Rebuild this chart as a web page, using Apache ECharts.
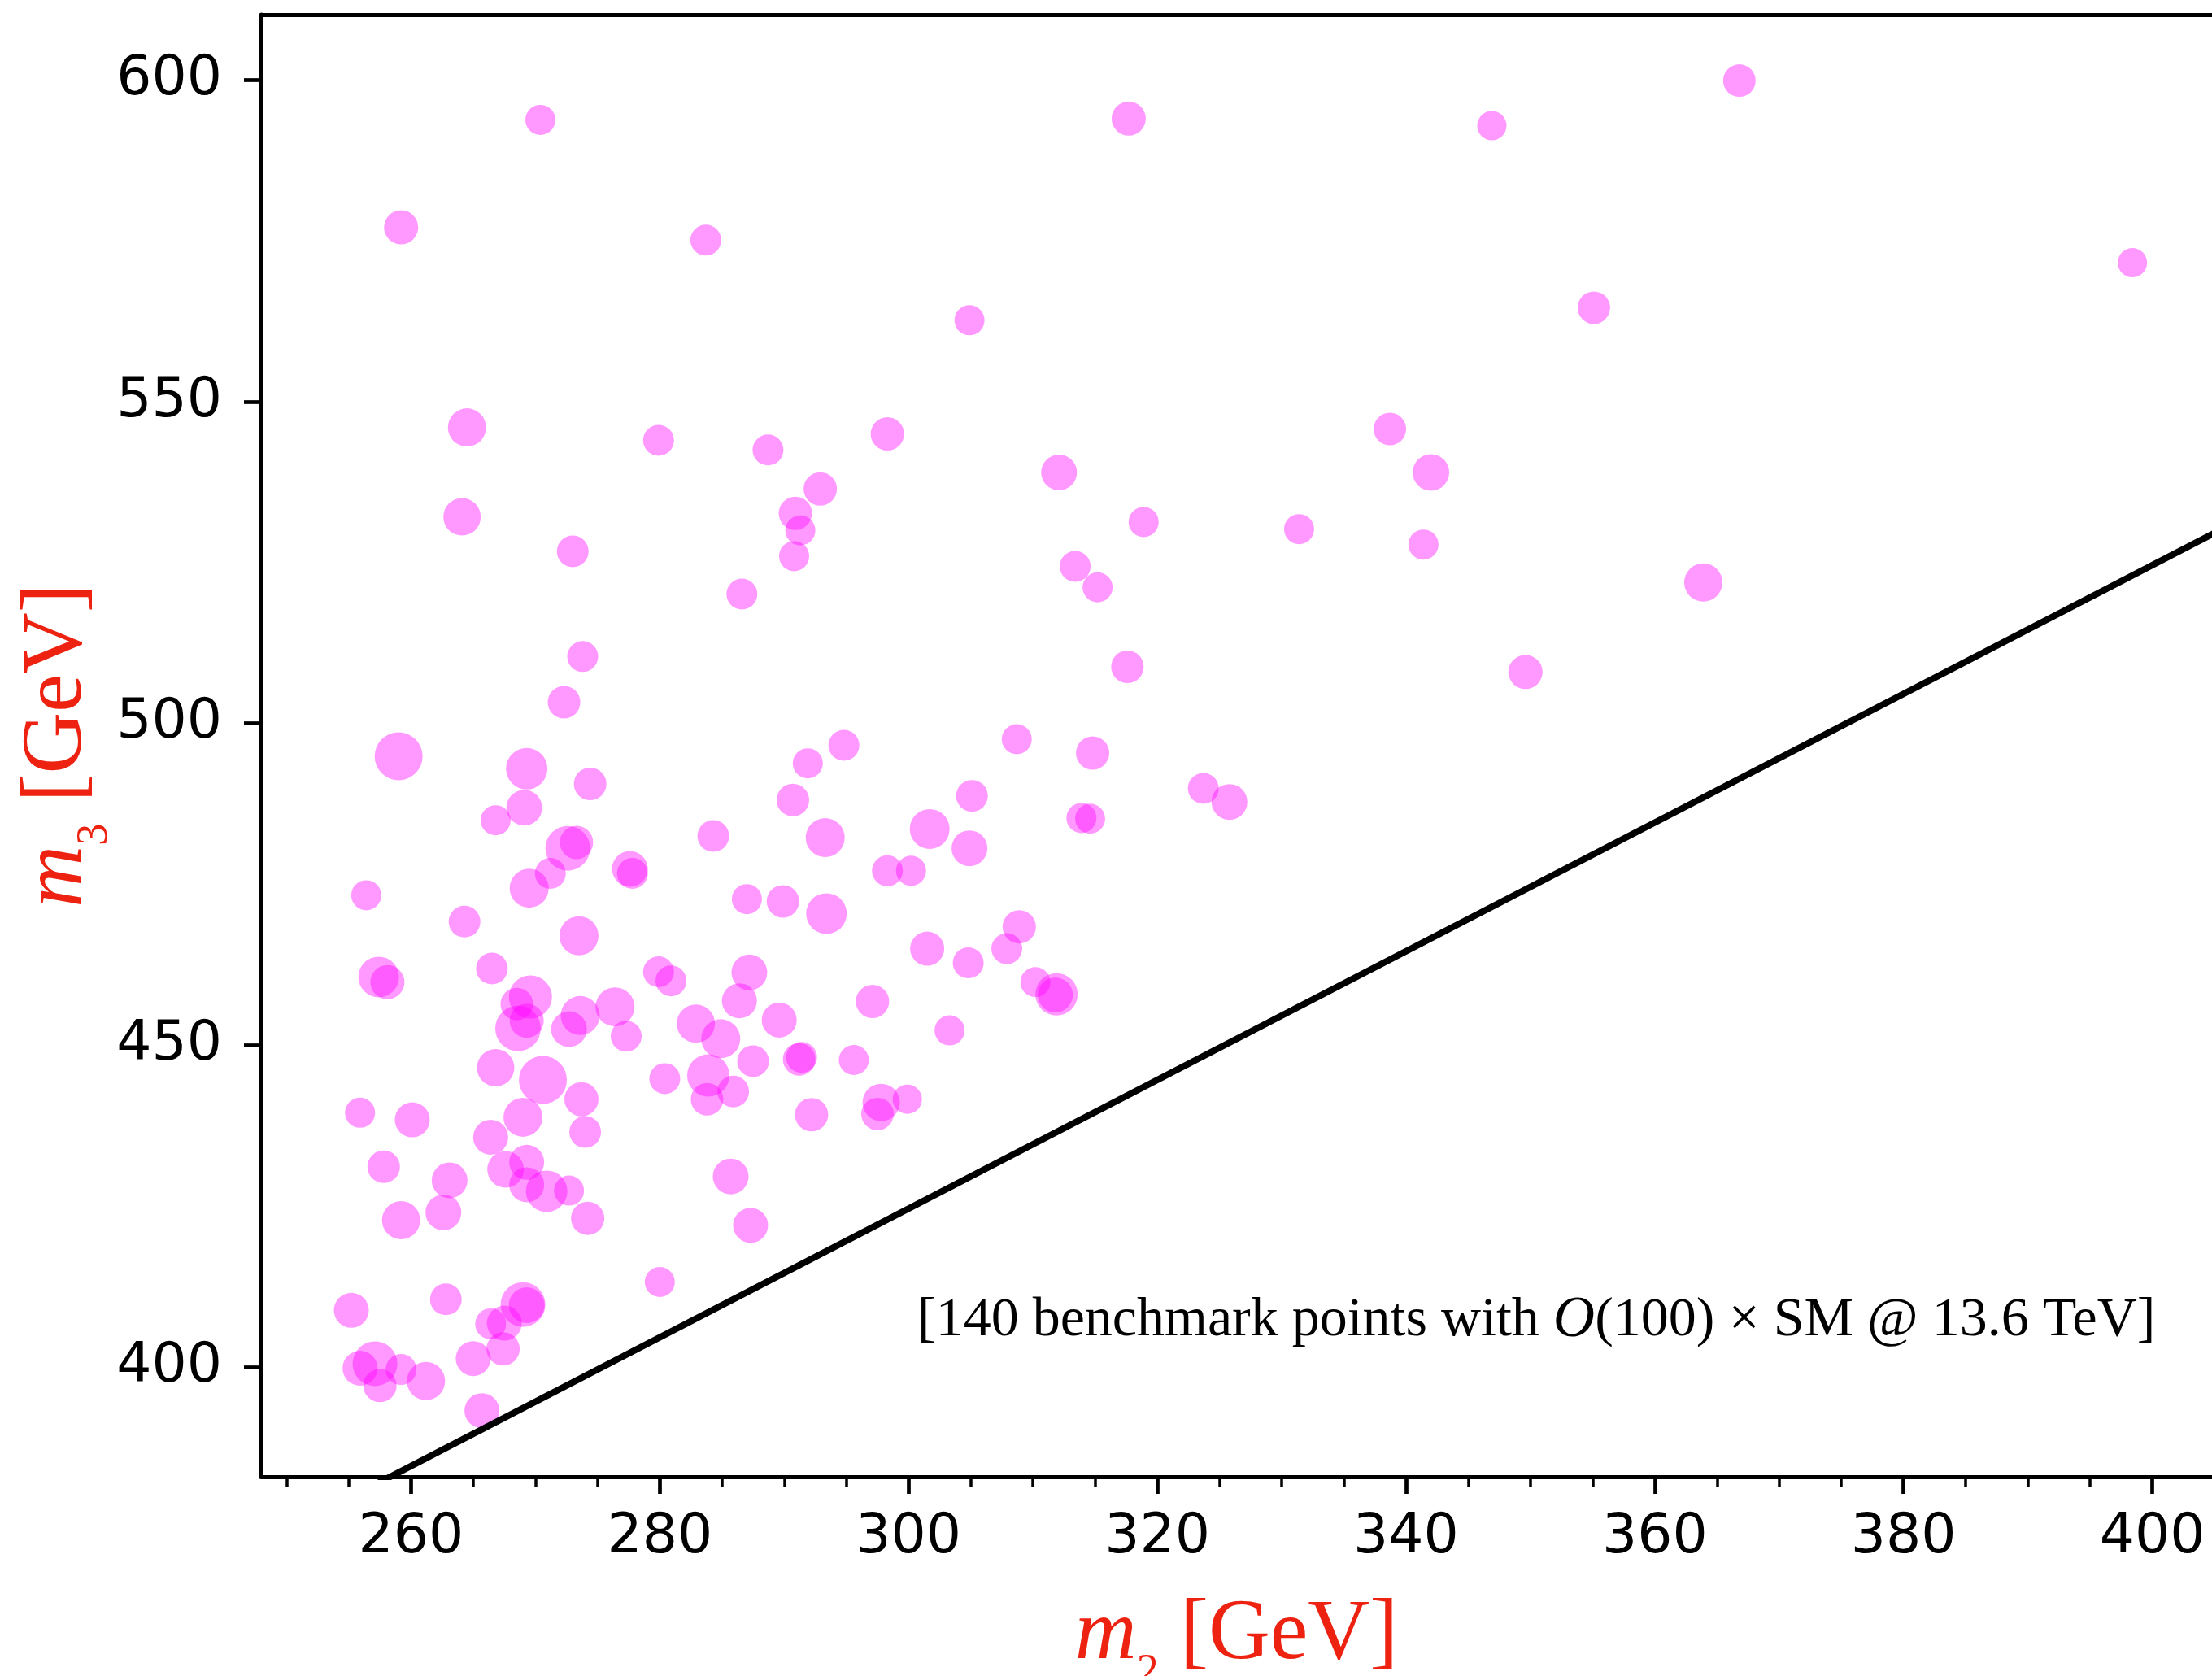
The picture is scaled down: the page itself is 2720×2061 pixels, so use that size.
<!DOCTYPE html>
<html><head><meta charset="utf-8">
<script src="https://cdn.jsdelivr.net/npm/echarts@6/dist/echarts.min.js"></script>
<style>html,body{margin:0;padding:0;background:#fff}#c{width:2720px;height:2061px}</style>
</head><body><div id="c"></div>
<script>
// ---- data ----
const m2 = [270.4,317.7,346.9,366.8,259.2,283.7,398.4,304.9,355.1,264.5,
279.9,288.7,298.3,338.7,342.0,312.1,264.1,292.9,290.9,291.3,
318.9,331.4,273.0,290.8,341.4,363.9,313.4,315.2,286.6,273.8,
317.6,349.6,272.3,259.0,269.3,294.8,308.7,291.9,274.4,314.8,
323.7,325.8,266.8,269.1,290.7,305.1,284.3,293.3,301.7,313.9,
314.6,272.6,273.3,271.2,304.9,277.6,277.8,298.3,300.2,269.5,
256.4,287.0,289.9,293.4,308.9,264.3,273.5,301.5,307.9,266.5,
304.8,279.9,280.9,287.2,257.4,258.1,310.2,311.9,311.8,269.6,
268.5,268.6,276.4,273.6,286.4,297.1,289.6,272.7,282.9,277.3,
303.3,284.9,266.8,270.6,283.9,280.4,287.5,291.2,291.4,295.6,
273.7,283.8,285.9,297.8,299.9,297.5,255.9,260.1,269.0,292.2,
274.0,266.4,257.8,267.6,269.3,263.1,285.7,269.3,270.9,272.7,
262.6,259.2,274.2,287.3,255.2,262.8,269.0,269.3,280.0,266.4,
267.5,267.4,265.0,257.1,255.9,259.2,257.5,261.2,265.7,269.3];

const m3 = [593.8,594.0,592.9,599.9,577.1,575.1,571.6,562.65,564.6,546.0,
544.0,542.5,545.0,545.75,539.0,539.0,532.1,536.45,532.65,530.0,
531.3,530.2,526.75,526.0,527.8,521.9,524.4,521.15,520.1,510.4,
508.8,508.0,503.3,494.9,492.96,496.6,497.55,493.8,490.6,495.4,
489.9,487.8,484.95,486.9,488.1,488.75,482.5,482.25,483.6,485.3,
485.2,480.6,481.5,476.7,480.6,477.4,476.7,477.1,477.1,474.4,
473.3,472.7,472.35,470.45,468.4,469.2,467.0,465.0,465.0,461.9,
462.8,461.4,460.0,461.3,460.6,459.8,459.8,457.9,457.8,457.5,
456.4,452.6,455.95,454.6,456.9,456.8,453.9,452.5,453.35,451.4,
452.3,451.0,446.5,444.6,445.3,444.8,447.5,447.8,448.1,447.7,
441.6,441.6,442.8,441.1,441.6,439.3,439.5,438.4,438.8,439.2,
436.5,435.7,431.1,430.7,431.8,429.0,429.6,428.3,427.3,427.4,
424.0,422.8,423.1,422.0,408.8,410.5,409.7,409.6,413.2,406.7,
406.8,402.8,401.3,400.5,399.8,399.6,397.1,397.8,393.2,453.8];

// relative marker weight of each benchmark point
const weight = [37,42,36,40,42,38,36,37,40,47,
38,38,41,40,45,44,46,41,41,37,
37,37,39,37,37,47,38,37,38,38,
40,42,40,59,51,38,37,37,40,41,
38,44,37,44,40,39,39,48,49,37,
37,55,41,38,44,44,38,38,37,48,
37,37,40,50,41,39,48,42,38,39,
38,38,38,44,50,42,37,52,43,53,
40,56,48,48,43,41,43,44,47,38,
37,48,46,59,52,38,39,40,38,37,
42,40,39,46,36,40,37,43,48,41,
39,43,40,45,43,44,44,43,51,37,
44,47,41,43,43,39,55,44,37,38,
43,41,43,55,43,38,41,47,43,42];

const xTickLabels = [260,280,300,320,340,360,380,400];
const xMinorTicks = [250,255,265,270,275,285,290,295,305,310,315,325,330,335,345,350,355,365,370,375,385,390,395];
const yTickLabels = [400,450,500,550,600];
const boundaryM2 = [248, 405];
const boundaryM3 = [372.6, 529.6];

// ---- layout / style ----
const X_MIN = 247.94, X_MAX = 404.8;
const Y_MIN = 382.93, Y_MAX = 610.15;
const SIZE_PX = 1;
const RED = '#ee2211';
const SERIF = "'Liberation Serif', serif";
const SANS = "'DejaVu Sans', sans-serif";

function nameRich(sub) {
  return {
    text: '{m|m}{s|' + sub + '}{t| [GeV]}',
    rich: {
      m: {fontFamily: SERIF, fontStyle: 'italic', fontSize: 105, color: RED, lineHeight: 105, verticalAlign: 'top'},
      s: {fontFamily: SERIF, fontSize: 54, color: RED, lineHeight: 125, padding: [71, 0, 0, 0], verticalAlign: 'top'},
      t: {fontFamily: SERIF, fontSize: 105, color: RED, lineHeight: 105, verticalAlign: 'top'}
    }
  };
}
const xName = nameRich('2'), yName = nameRich('3');

const chart = echarts.init(document.getElementById('c'), null, {renderer: 'canvas', width: 2720, height: 2061});
const scatterData = m2.map((v, i) => [v, m3[i], weight[i]]);
const lineData = boundaryM2.map((v, i) => [v, boundaryM3[i]]);

chart.setOption({
  animation: false,
  backgroundColor: '#fff',
  grid: {left: 321, top: 18, right: 0, bottom: 245, containLabel: false, outerBoundsMode: 'none'},
  xAxis: [
    {
      type: 'value', min: X_MIN, max: X_MAX, position: 'bottom',
      axisLine: {show: true, onZero: false, lineStyle: {color: '#000', width: 5}},
      axisTick: {show: true, inside: false, length: 21, lineStyle: {color: '#000', width: 4.7}, customValues: xTickLabels},
      axisLabel: {show: true, customValues: xTickLabels, fontFamily: SANS, fontSize: 68, color: '#000', margin: 41},
      splitLine: {show: false},
      name: xName.text, nameLocation: 'middle', nameGap: 143, nameMoveOverlap: false,
      nameTextStyle: {rich: xName.rich}
    },
    {
      type: 'value', min: X_MIN, max: X_MAX, position: 'bottom',
      axisLine: {show: false},
      axisTick: {show: true, inside: false, length: 12, lineStyle: {color: '#000', width: 3.5}, customValues: xMinorTicks},
      axisLabel: {show: false}, splitLine: {show: false}
    },
    {
      type: 'value', min: X_MIN, max: X_MAX, position: 'top',
      axisLine: {show: true, onZero: false, lineStyle: {color: '#000', width: 5}},
      axisTick: {show: false}, axisLabel: {show: false}, splitLine: {show: false}
    }
  ],
  yAxis: [{
    type: 'value', min: Y_MIN, max: Y_MAX, position: 'left',
    axisLine: {show: true, onZero: false, lineStyle: {color: '#000', width: 5}},
    axisTick: {show: true, inside: false, length: 21, lineStyle: {color: '#000', width: 4.7}, customValues: yTickLabels},
    axisLabel: {show: true, customValues: yTickLabels, fontFamily: SANS, fontSize: 68, color: '#000', margin: 48, padding: [4, 0, 0, 0]},
    splitLine: {show: false},
    name: yName.text, nameLocation: 'middle', nameGap: 177, nameRotate: 90, nameMoveOverlap: false,
    nameTextStyle: {rich: yName.rich}
  }],
  series: [
    {
      type: 'scatter', xAxisIndex: 0, yAxisIndex: 0,
      data: scatterData,
      symbol: 'circle',
      symbolSize: d => d[2] * SIZE_PX,
      itemStyle: {color: 'rgba(255,0,255,0.5)', borderWidth: 0},
      z: 2
    },
    {
      type: 'line', xAxisIndex: 0, yAxisIndex: 0,
      data: lineData, symbol: 'none', clip: true,
      lineStyle: {color: '#000', width: 8},
      z: 3
    }
  ],
  graphic: [{
    type: 'text', x: 1128, y: 1584, z: 10,
    style: {
      text: '[140 benchmark points with {o|O}(100) × SM @ 13.6 TeV]',
      fontFamily: SERIF, fontSize: 68, fill: '#000', align: 'left', verticalAlign: 'top', lineHeight: 80,
      rich: {o: {fontFamily: SERIF, fontStyle: 'italic', fontSize: 71, lineHeight: 80}}
    }
  }]
});
</script>
</body></html>
